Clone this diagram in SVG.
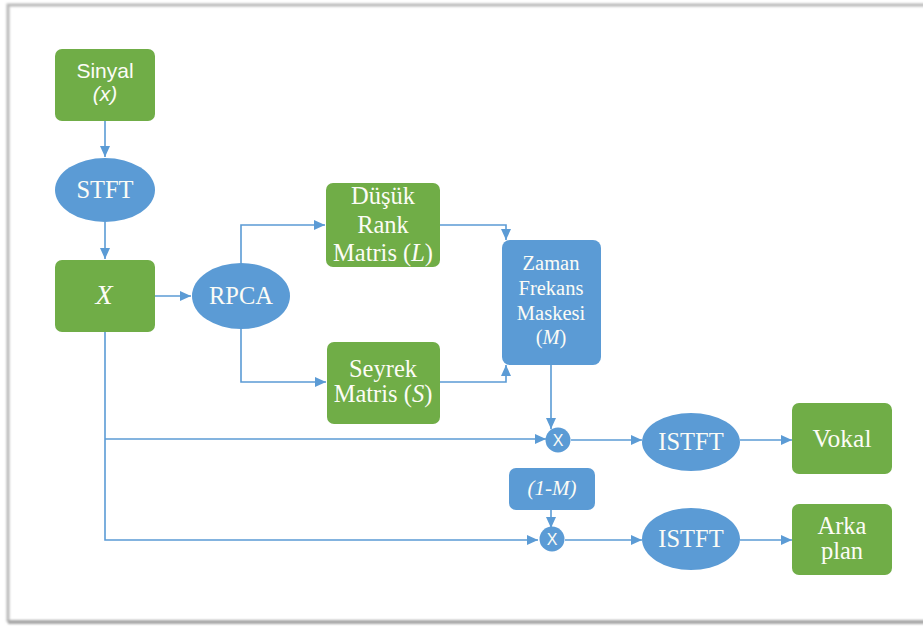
<svg xmlns="http://www.w3.org/2000/svg" width="923" height="628" viewBox="0 0 923 628">
<defs>
<marker id="ah" markerUnits="userSpaceOnUse" markerWidth="12" markerHeight="12" viewBox="0 0 12 12" refX="11" refY="6" orient="auto">
<path d="M0,1 L11,6 L0,11 Z" fill="#5B9BD5"/>
</marker>
<filter id="sh" x="-5%" y="-5%" width="110%" height="110%">
<feGaussianBlur stdDeviation="1.2"/>
</filter>
</defs>
<style>
.g{fill:#70AD47}
.b{fill:#5B9BD5}
.t{font-family:"Liberation Serif","Times New Roman",serif;font-size:24.5px;fill:#fcfcf6;text-anchor:middle}
.z{font-size:20.5px}
.s{font-family:"Liberation Sans",Arial,sans-serif;font-size:21px;fill:#fcfcf6;text-anchor:middle}
.m{font-size:16px}
.i{font-style:italic}
.c{fill:none;stroke:#5B9BD5;stroke-width:1.6}
</style>
<rect width="923" height="628" fill="#fff"/>
<g id="frame" filter="url(#sh)">
<path d="M8,622 L8,5 L930,5" fill="none" stroke="#b8b8b8" stroke-width="3"/>
<path d="M8,622 L930,622" fill="none" stroke="#a8a8a8" stroke-width="4"/>
</g>
<g id="connectors">
<path class="c" d="M105,121 V157" marker-end="url(#ah)"/>
<path class="c" d="M105,222 V259" marker-end="url(#ah)"/>
<path class="c" d="M155,296 H191" marker-end="url(#ah)"/>
<path class="c" d="M241,263 V225 H325" marker-end="url(#ah)"/>
<path class="c" d="M241,328 V382 H326" marker-end="url(#ah)"/>
<path class="c" d="M440,225 H506 V240" marker-end="url(#ah)"/>
<path class="c" d="M440,382 H506 V365" marker-end="url(#ah)"/>
<path class="c" d="M551,365 V429" marker-end="url(#ah)"/>
<path class="c" d="M105,332 V540 H538" marker-end="url(#ah)"/>
<path class="c" d="M105,439 H546" marker-end="url(#ah)"/>
<path class="c" d="M571,440 H642" marker-end="url(#ah)"/>
<path class="c" d="M740,440 H792" marker-end="url(#ah)"/>
<path class="c" d="M551,510 V528" marker-end="url(#ah)"/>
<path class="c" d="M565,540 H642" marker-end="url(#ah)"/>
<path class="c" d="M740,540 H792" marker-end="url(#ah)"/>
</g>
<g id="sinyal">
<rect class="g" x="55" y="49" width="100" height="72" rx="7"/>
<text class="s" x="105" y="78">Sinyal</text>
<text class="s i" x="105" y="101">(x)</text>
</g>
<g id="stft">
<ellipse class="b" cx="105" cy="190" rx="50" ry="32"/>
<text class="t" x="105" y="198">STFT</text>
</g>
<g id="x">
<rect class="g" x="55" y="260" width="100" height="72" rx="7"/>
<text class="t i" x="104" y="304" style="font-size:28px">X</text>
</g>
<g id="rpca">
<ellipse class="b" cx="241" cy="296" rx="49" ry="33"/>
<text class="t" x="241" y="304">RPCA</text>
</g>
<g id="dusuk">
<rect class="g" x="326" y="183" width="114" height="84" rx="7"/>
<text class="t" x="383" y="204">Düşük</text>
<text class="t" x="383" y="233">Rank</text>
<text class="t" x="383" y="261">Matris (<tspan class="i">L</tspan>)</text>
</g>
<g id="seyrek">
<rect class="g" x="327" y="342" width="113" height="82" rx="7"/>
<text class="t" x="383" y="377">Seyrek</text>
<text class="t" x="383" y="402">Matris (<tspan class="i">S</tspan>)</text>
</g>
<g id="zaman">
<rect class="b" x="502" y="240" width="99" height="125" rx="8"/>
<text class="t z" x="551" y="270">Zaman</text>
<text class="t z" x="551" y="295">Frekans</text>
<text class="t z" x="551" y="320">Maskesi</text>
<text class="t z" x="551" y="344">(<tspan class="i">M</tspan>)</text>
</g>
<g id="mul1">
<circle class="b" cx="558" cy="440" r="12.5"/>
<text class="s m" x="558" y="446">X</text>
</g>
<g id="istft1">
<ellipse class="b" cx="691" cy="442" rx="49" ry="29"/>
<text class="t" x="691" y="450">ISTFT</text>
</g>
<g id="vokal">
<rect class="g" x="792" y="403" width="100" height="71" rx="7"/>
<text class="t" x="842" y="447" style="font-size:25.5px">Vokal</text>
</g>
<g id="oneminusm">
<rect class="b" x="509" y="468" width="86" height="42" rx="7"/>
<text class="t i" x="552" y="495" style="font-size:21px">(1-M)</text>
</g>
<g id="mul2">
<circle class="b" cx="552" cy="539" r="12.5"/>
<text class="s m" x="552" y="545">X</text>
</g>
<g id="istft2">
<ellipse class="b" cx="691" cy="539" rx="49" ry="31"/>
<text class="t" x="691" y="547">ISTFT</text>
</g>
<g id="arkaplan">
<rect class="g" x="792" y="504" width="100" height="71" rx="7"/>
<text class="t" x="842" y="534">Arka</text>
<text class="t" x="842" y="559">plan</text>
</g>
</svg>
